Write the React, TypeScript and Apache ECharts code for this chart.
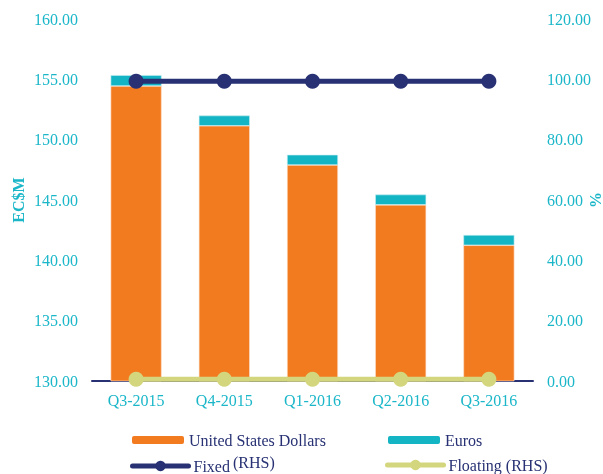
import React, { useEffect, useRef } from "react";
import * as echarts from "echarts";

const categories = ["Q3-2015", "Q4-2015", "Q1-2016", "Q2-2016", "Q3-2016"];
const usdValues = [154.45, 151.15, 147.9, 144.6, 141.25];
const euroValues = [0.9, 0.85, 0.85, 0.85, 0.85];
const fixedValues = [99.4, 99.4, 99.4, 99.4, 99.4];
const floatingValues = [0.6, 0.6, 0.6, 0.6, 0.6];
const leftMin = 130;
const leftMax = 160;
const rightMin = 0;
const rightMax = 120;

const FONT = "Liberation Serif";
const CYAN = "#1bb7c9";
const NAVY = "#273173";
const ORANGE = "#f27b20";
const TEAL = "#13b4c4";
const LIME = "#d3d67c";

export default function App() {
  const ref = useRef<HTMLDivElement>(null);
  useEffect(() => {
    if (!ref.current) return;
    const chart = echarts.init(ref.current, null, { renderer: "svg" });
    const legendText = { fontFamily: FONT, fontSize: 16, color: NAVY };
    chart.setOption({
      animation: false,
      textStyle: { fontFamily: FONT },
      grid: { left: 92, right: 70, top: 19, bottom: 93, outerBoundsMode: "none", containLabel: false },
      xAxis: {
        type: "category",
        data: categories,
        axisLine: { show: true, lineStyle: { color: NAVY, width: 2 } },
        axisTick: { show: false },
        axisLabel: { color: CYAN, fontSize: 16, fontFamily: FONT, margin: 11 },
      },
      yAxis: [
        {
          type: "value",
          min: leftMin,
          max: leftMax,
          interval: 5,
          name: "EC$M",
          nameLocation: "middle",
          nameGap: 66,
          nameMoveOverlap: false,
          nameRotate: 90,
          nameTextStyle: { color: CYAN, fontSize: 16, fontWeight: "bold", fontFamily: FONT },
          axisLine: { show: false },
          axisTick: { show: false },
          splitLine: { show: false },
          axisLabel: {
            color: CYAN,
            fontSize: 16,
            fontFamily: FONT,
            margin: 14,
            formatter: (v: number) => v.toFixed(2),
          },
        },
        {
          type: "value",
          min: rightMin,
          max: rightMax,
          interval: 20,
          name: "%",
          nameLocation: "middle",
          nameGap: 54,
          nameMoveOverlap: false,
          nameRotate: 90,
          nameTextStyle: { color: CYAN, fontSize: 16, fontWeight: "bold", fontFamily: FONT },
          axisLine: { show: false },
          axisTick: { show: false },
          splitLine: { show: false },
          axisLabel: {
            color: CYAN,
            fontSize: 16,
            fontFamily: FONT,
            margin: 14,
            formatter: (v: number) => v.toFixed(2),
          },
        },
      ],
      legend: [
        {
          data: ["United States Dollars"],
          left: 132,
          top: 432,
          padding: 0,
          itemWidth: 52,
          itemHeight: 8,
          itemStyle: { borderWidth: 0 },
          textStyle: legendText,
        },
        {
          data: ["Euros"],
          left: 388,
          top: 432,
          padding: 0,
          itemWidth: 52,
          itemHeight: 8,
          itemStyle: { borderWidth: 0 },
          textStyle: legendText,
        },
        {
          data: ["Fixed"],
          left: 130,
          top: 454,
          padding: 0,
          itemWidth: 56,
          itemHeight: 13,
          lineStyle: { width: 5, cap: "round" },
          formatter: () => "{a|Fixed}{b|(RHS)}",
          textStyle: {
            ...legendText,
            rich: {
              a: { fontFamily: FONT, fontSize: 16, color: NAVY, padding: [0, 3, 0, 0] },
              b: { fontFamily: FONT, fontSize: 16, color: NAVY, padding: [0, 0, 8, 0] },
            },
          },
        },
        {
          data: ["Floating (RHS)"],
          left: 385,
          top: 457,
          padding: 0,
          itemWidth: 56,
          itemHeight: 13,
          lineStyle: { width: 5, cap: "round" },
          textStyle: legendText,
        },
      ],
      series: [
        {
          name: "United States Dollars",
          type: "bar",
          stack: "total",
          barWidth: 51,
          data: usdValues,
          itemStyle: { color: ORANGE, borderColor: "#fbe1cc", borderWidth: 0.6 },
        },
        {
          name: "Euros",
          type: "bar",
          stack: "total",
          barWidth: 51,
          data: euroValues,
          itemStyle: { color: TEAL, borderColor: "#c9eef2", borderWidth: 0.6 },
        },
        {
          name: "Floating (RHS)",
          type: "line",
          yAxisIndex: 1,
          data: floatingValues,
          symbol: "circle",
          symbolSize: 15,
          lineStyle: { color: LIME, width: 5 },
          itemStyle: { color: LIME },
        },
        {
          name: "Fixed",
          type: "line",
          yAxisIndex: 1,
          data: fixedValues,
          symbol: "circle",
          symbolSize: 15,
          lineStyle: { color: NAVY, width: 5 },
          itemStyle: { color: NAVY },
        },
      ],
    });
    return () => chart.dispose();
  }, []);
  return (
    <div
      ref={ref}
      style={{ position: "fixed", left: 0, top: 0, width: 603, height: 474 }}
    />
  );
}
